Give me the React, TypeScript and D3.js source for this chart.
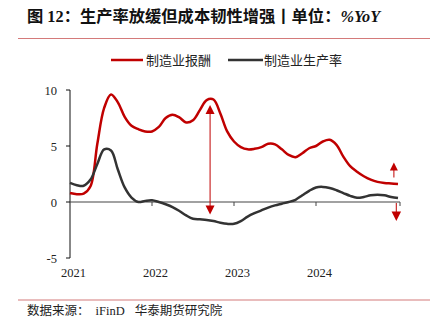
import React from "react";
import * as d3 from "d3";

const years = ["2021", "2022", "2023", "2024"];
const yTicks = [-5, 0, 5, 10];
const wageSeries = [
  0.8, 0.7, 0.75, 1.4, 5.2, 8.4, 9.6, 8.9, 7.6, 6.8, 6.5, 6.3,
  6.3, 6.7, 7.5, 7.8, 7.55, 7.1, 7.3, 8.2, 9.1, 9.15, 7.9, 6.3,
  5.4, 4.9, 4.7, 4.75, 4.9, 5.2, 5.15, 4.7, 4.2, 4.0, 4.35, 4.8,
  5.0, 5.4, 5.55, 5.1, 4.05, 3.2, 2.7, 2.3, 2.0, 1.8, 1.7, 1.65, 1.6,
];
const productivitySeries = [
  1.7, 1.5, 1.45, 2.0, 3.4, 4.7, 4.6, 2.9, 1.3, 0.4, 0.0, 0.1,
  0.15, 0.0, -0.2, -0.45, -0.8, -1.2, -1.5, -1.55, -1.6, -1.7, -1.85, -1.95,
  -1.95, -1.7, -1.3, -1.0, -0.75, -0.5, -0.3, -0.15, 0.0, 0.2, 0.6, 1.0,
  1.3, 1.35, 1.25, 1.05, 0.8, 0.55, 0.38, 0.45, 0.6, 0.65, 0.6, 0.45, 0.35,
];
const seriesNames = ["制造业报酬", "制造业生产率"];
const title = "图 12：生产率放缓但成本韧性增强丨单位：";
const titleUnit = "%YoY";

const RED = "#C00000";
const DARK = "#333333";
const FONT = "'Liberation Serif', 'Noto Sans CJK SC', serif";

export default function App() {
  const W = 435, H = 334;
  const x = d3.scaleLinear().domain([0, 48]).range([70, 398]);
  const y = d3.scaleLinear().domain([-5, 10]).range([258, 90]);
  const line = d3
    .line<number>()
    .x((_, i) => x(i))
    .y((d) => y(d))
    .curve(d3.curveCatmullRom.alpha(0.5));

  const triUp = (cx: number, tip: number, w: number, h: number) =>
    `M${cx},${tip}L${cx - w / 2},${tip + h}L${cx + w / 2},${tip + h}Z`;
  const triDown = (cx: number, tip: number, w: number, h: number) =>
    `M${cx},${tip}L${cx - w / 2},${tip - h}L${cx + w / 2},${tip - h}Z`;

  const a1x = x(20.5);
  const a2x = x(47.4);
  const a3x = x(47.75);

  return (
    <svg width={W} height={H} style={{ position: "absolute", left: 0, top: 0 }} fontFamily={FONT}>
      <rect width={W} height={H} fill="#fff" />
      <text x={27} y={22} fontSize={16.3} fontWeight="bold" fill="#111">
        {title}
        <tspan fontStyle="italic">{titleUnit}</tspan>
      </text>
      <line x1={18} x2={430} y1={38.5} y2={38.5} stroke="#d47a7a" strokeWidth={1.2} />

      {/* legend */}
      <line x1={111} x2={143} y1={60} y2={60} stroke={RED} strokeWidth={2.5} />
      <text x={146} y={64.5} fontSize={13} fill="#222">{seriesNames[0]}</text>
      <line x1={228} x2={263} y1={60} y2={60} stroke={DARK} strokeWidth={2.5} />
      <text x={264} y={64.5} fontSize={13} fill="#222">{seriesNames[1]}</text>

      {/* y axis */}
      <line x1={70} x2={70} y1={y(10)} y2={y(-5)} stroke="#111" strokeWidth={1} />
      {yTicks.map((t) => (
        <g key={t}>
          <line x1={66} x2={70} y1={y(t)} y2={y(t)} stroke="#111" />
          <text x={57} y={y(t) + 4.5} fontSize={12.5} textAnchor="end" fill="#222">
            {t}
          </text>
        </g>
      ))}

      {/* x axis */}
      <line x1={70} x2={400} y1={y(0)} y2={y(0)} stroke="#444" strokeWidth={1.2} />
      {[12, 24, 36, 48].map((m) => (
        <line key={m} x1={x(m) + (m === 48 ? 2 : 0)} x2={x(m) + (m === 48 ? 2 : 0)} y1={y(0)} y2={y(0) + 4} stroke="#444" />
      ))}
      {years.map((yr, i) => (
        <text key={yr} x={x(i * 12 + 0.5)} y={277} fontSize={12.5} textAnchor="middle" fill="#222">
          {yr}
        </text>
      ))}

      {/* series */}
      <path d={line(wageSeries) || ""} fill="none" stroke={RED} strokeWidth={2.5} />
      <path d={line(productivitySeries) || ""} fill="none" stroke={DARK} strokeWidth={2.5} />

      {/* arrows */}
      <line x1={a1x} x2={a1x} y1={112} y2={207} stroke={RED} strokeWidth={1} />
      <path d={triUp(a1x, 105, 9, 9)} fill={RED} />
      <path d={triDown(a1x, 214.5, 9, 9)} fill={RED} />

      <line x1={a2x} x2={a2x} y1={168} y2={177.5} stroke={RED} strokeWidth={1} />
      <path d={triUp(a2x, 162.5, 8, 8)} fill={RED} />
      <line x1={a3x} x2={a3x} y1={203} y2={213} stroke={RED} strokeWidth={1} />
      <path d={triDown(a3x, 221, 9.5, 9.5)} fill={RED} />

      {/* footer */}
      <line x1={18} x2={430} y1={300} y2={300} stroke="#d47a7a" strokeWidth={1.2} />
      <text x={27} y={315} fontSize={12.5} fill="#222">
        数据来源：
        <tspan dx={6}>iFinD</tspan>
        <tspan dx={10}>华泰期货研究院</tspan>
      </text>
    </svg>
  );
}
